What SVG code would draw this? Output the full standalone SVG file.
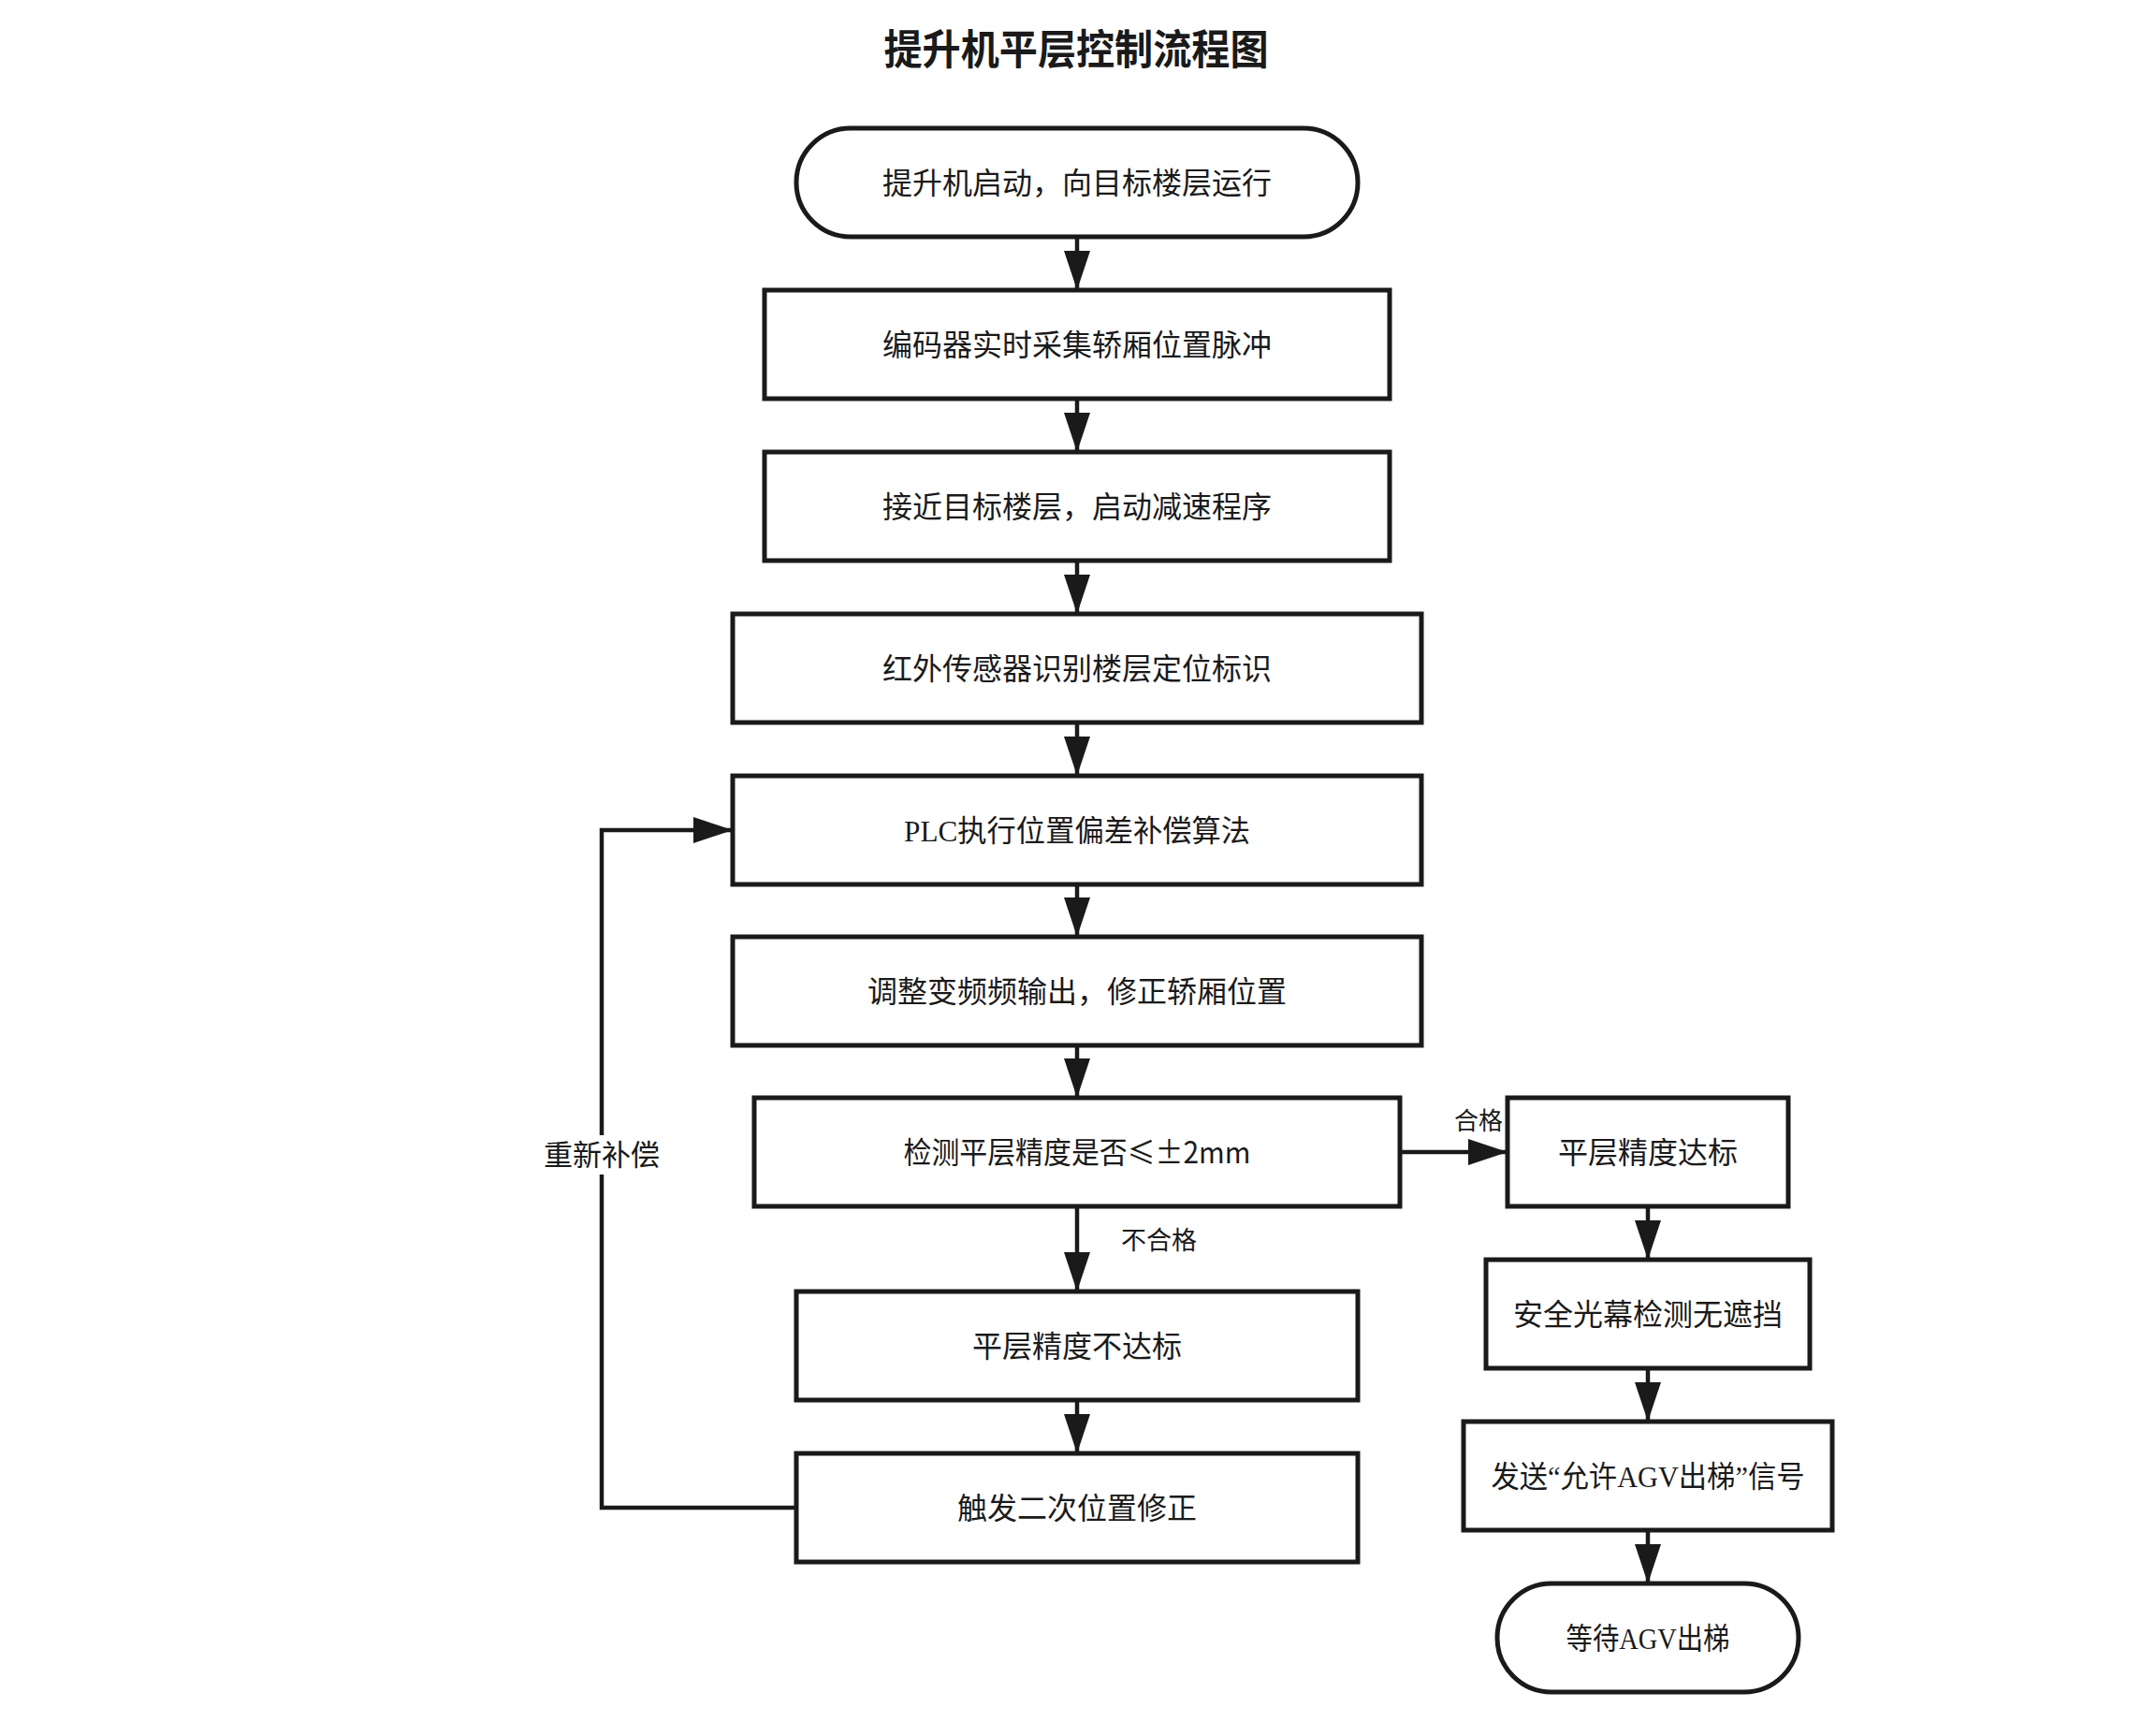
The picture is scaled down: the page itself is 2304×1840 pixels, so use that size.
<svg xmlns="http://www.w3.org/2000/svg" width="2304" height="1840" viewBox="0 0 2304 1840">
  <defs>
    <style>
      .node { fill: #ffffff; stroke: #1a1a1a; stroke-width: 5; }
      .t { font-family: "Noto Sans CJK SC", sans-serif; font-size: 32px; fill: #1a1a1a; text-anchor: middle; }
      .mix { font-family: "Liberation Serif", "Noto Sans CJK SC", serif; }
      .title { font-family: "Noto Sans CJK SC", sans-serif; font-size: 44px; font-weight: bold; fill: #1a1a1a; text-anchor: middle; }
      .lbl { font-family: "Noto Sans CJK SC", sans-serif; font-size: 27px; fill: #1a1a1a; }
      .edge { fill: none; stroke: #1a1a1a; stroke-width: 4.5; marker-end: url(#ah); }
    </style>
    <marker id="ah" markerUnits="userSpaceOnUse" markerWidth="42" markerHeight="28" viewBox="0 0 42 28" refX="42" refY="14" orient="auto">
      <path d="M0,0 L42,14 L0,28 z" fill="#1a1a1a"/>
    </marker>
  </defs>
  <rect x="0" y="0" width="2304" height="1840" fill="#ffffff"/>

  <text class="title" x="1150" y="69" textLength="411" lengthAdjust="spacingAndGlyphs">提升机平层控制流程图</text>

  <g id="connectors">
    <path class="edge" d="M1151,253 L1151,310"/>
    <path class="edge" d="M1151,426 L1151,483"/>
    <path class="edge" d="M1151,599 L1151,656"/>
    <path class="edge" d="M1151,772 L1151,829"/>
    <path class="edge" d="M1151,945 L1151,1001"/>
    <path class="edge" d="M1151,1117 L1151,1173"/>
    <path class="edge" d="M1151,1289 L1151,1380"/>
    <path class="edge" d="M1151,1496 L1151,1553"/>
    <path class="edge" d="M1496,1231 L1611,1231"/>
    <path class="edge" d="M1761,1289 L1761,1346"/>
    <path class="edge" d="M1761,1462 L1761,1519"/>
    <path class="edge" d="M1761,1635 L1761,1692"/>
    <path class="edge" d="M851,1611 L643,1611 L643,887 L783,887"/>
    <rect x="583" y="1213" width="120" height="42" fill="#ffffff"/>
    <text class="lbl" x="643" y="1245" text-anchor="middle" style="font-size:31px">重新补偿</text>
    <text class="lbl" x="1580" y="1207" text-anchor="middle" style="font-size:26px">合格</text>
    <text class="lbl" x="1198" y="1335">不合格</text>
  </g>

  <g id="n1">
    <rect class="node" x="851" y="137" width="600" height="116" rx="58" ry="58"/>
    <text class="t" x="1151" y="207">提升机启动，向目标楼层运行</text>
  </g>
  <g id="n2">
    <rect class="node" x="817" y="310" width="668" height="116"/>
    <text class="t" x="1151" y="380">编码器实时采集轿厢位置脉冲</text>
  </g>
  <g id="n3">
    <rect class="node" x="817" y="483" width="668" height="116"/>
    <text class="t" x="1151" y="553">接近目标楼层，启动减速程序</text>
  </g>
  <g id="n4">
    <rect class="node" x="783" y="656" width="736" height="116"/>
    <text class="t" x="1151" y="726">红外传感器识别楼层定位标识</text>
  </g>
  <g id="n5">
    <rect class="node" x="783" y="829" width="736" height="116"/>
    <text class="t mix" x="1151" y="899" textLength="370" lengthAdjust="spacingAndGlyphs">PLC执行位置偏差补偿算法</text>
  </g>
  <g id="n6">
    <rect class="node" x="783" y="1001" width="736" height="116"/>
    <text class="t" x="1151" y="1071">调整变频频输出，修正轿厢位置</text>
  </g>
  <g id="n7">
    <rect class="node" x="806" y="1173" width="690" height="116"/>
    <text class="t" x="1151" y="1243" textLength="371" lengthAdjust="spacingAndGlyphs">检测平层精度是否≤±2mm</text>
  </g>
  <g id="n8">
    <rect class="node" x="851" y="1380" width="600" height="116"/>
    <text class="t" x="1151" y="1450">平层精度不达标</text>
  </g>
  <g id="n9">
    <rect class="node" x="851" y="1553" width="600" height="116"/>
    <text class="t" x="1151" y="1623">触发二次位置修正</text>
  </g>
  <g id="r1">
    <rect class="node" x="1611" y="1173" width="300" height="116"/>
    <text class="t" x="1761" y="1243">平层精度达标</text>
  </g>
  <g id="r2">
    <rect class="node" x="1588" y="1346" width="346" height="116"/>
    <text class="t" x="1761" y="1416">安全光幕检测无遮挡</text>
  </g>
  <g id="r3">
    <rect class="node" x="1564" y="1519" width="394" height="116"/>
    <text class="t mix" x="1761" y="1589" textLength="335" lengthAdjust="spacingAndGlyphs">发送“允许AGV出梯”信号</text>
  </g>
  <g id="r4">
    <rect class="node" x="1600" y="1692" width="322" height="116" rx="58" ry="58"/>
    <text class="t mix" x="1761" y="1762" textLength="175" lengthAdjust="spacingAndGlyphs">等待AGV出梯</text>
  </g>
</svg>
